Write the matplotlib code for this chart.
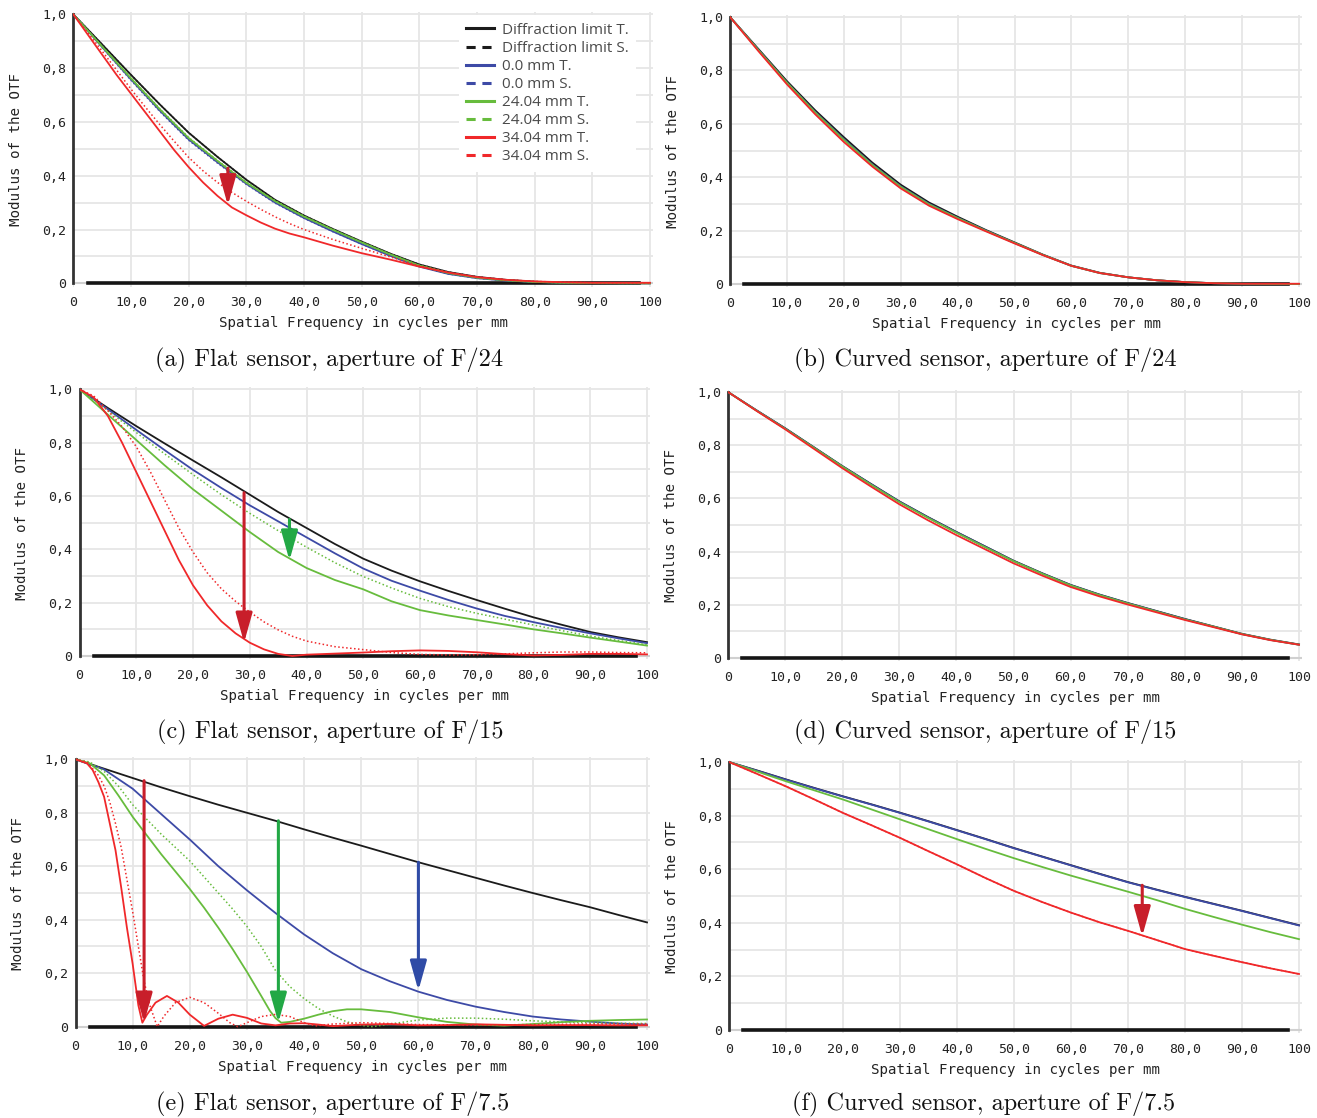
import matplotlib
matplotlib.use('Agg')
import matplotlib.pyplot as plt
from matplotlib.lines import Line2D

# ------------------------------------------------------------------
# Data (modulus of the OTF vs. frequency)
# ------------------------------------------------------------------
FREQ = [0, 5, 10, 15, 20, 25, 30, 35, 40, 45, 50, 55, 60, 65, 70, 75, 80, 85, 90, 95, 100]
FREQ_FINE = [0, 2.5, 5, 7.5, 10, 12.5, 15, 17.5, 20, 22.5, 25, 27.5, 30, 32.5, 35, 37.5, 40,
             45, 50, 55, 60, 65, 70, 75, 80, 85, 90, 95, 100]

X_TICKS = [0, 10, 20, 30, 40, 50, 60, 70, 80, 90, 100]
X_TICK_LABELS = ['0', '10,0', '20,0', '30,0', '40,0', '50,0', '60,0', '70,0', '80,0', '90,0', '100']
Y_TICKS = [0, 0.2, 0.4, 0.6, 0.8, 1.0]
Y_TICK_LABELS = ['0', '0,2', '0,4', '0,6', '0,8', '1,0']
Y_MINOR = [0.1, 0.3, 0.5, 0.7, 0.9]

LEGEND_LABELS = ['Diffraction limit T.', 'Diffraction limit S.', '0.0 mm T.', '0.0 mm S.',
                 '24.04 mm T.', '24.04 mm S.', '34.04 mm T.', '34.04 mm S.']

CAPTIONS = ['(a) Flat sensor, aperture of F/24', '(b) Curved sensor, aperture of F/24',
            '(c) Flat sensor, aperture of F/15', '(d) Curved sensor, aperture of F/15',
            '(e) Flat sensor, aperture of F/7.5', '(f) Curved sensor, aperture of F/7.5']

# (a) flat, F/24
A_DIFF = [1.0, 0.888, 0.775, 0.665, 0.56, 0.47, 0.385, 0.31, 0.252, 0.202, 0.155, 0.11, 0.07, 0.042, 0.024, 0.013, 0.006, 0.003, 0.001, 0.0, 0.0]
A_BLUE_T = [1.0, 0.878, 0.758, 0.642, 0.535, 0.45, 0.37, 0.3, 0.243, 0.193, 0.146, 0.102, 0.062, 0.035, 0.019, 0.01, 0.005, 0.002, 0.001, 0.0, 0.0]
A_BLUE_S = [1.0, 0.876, 0.755, 0.639, 0.532, 0.447, 0.368, 0.298, 0.242, 0.192, 0.146, 0.102, 0.062, 0.035, 0.019, 0.01, 0.005, 0.002, 0.001, 0.0, 0.0]
A_GREEN_T = [1.0, 0.88, 0.762, 0.647, 0.54, 0.455, 0.374, 0.305, 0.248, 0.199, 0.152, 0.107, 0.066, 0.038, 0.021, 0.011, 0.005, 0.002, 0.001, 0.0, 0.0]
A_GREEN_S = [1.0, 0.881, 0.764, 0.649, 0.542, 0.457, 0.376, 0.307, 0.25, 0.2, 0.153, 0.108, 0.067, 0.039, 0.021, 0.011, 0.005, 0.002, 0.001, 0.0, 0.0]
A_RED_T = [1.0, 0.925, 0.85, 0.775, 0.705, 0.635, 0.565, 0.495, 0.432, 0.375, 0.325, 0.282, 0.253, 0.226, 0.203, 0.185, 0.171,
           0.14, 0.112, 0.088, 0.062, 0.04, 0.023, 0.013, 0.007, 0.004, 0.002, 0.002, 0.002]
A_RED_S = [1.0, 0.932, 0.863, 0.793, 0.722, 0.655, 0.59, 0.528, 0.468, 0.418, 0.375, 0.338, 0.305, 0.275, 0.247, 0.222, 0.2,
           0.163, 0.13, 0.098, 0.065, 0.04, 0.023, 0.013, 0.007, 0.004, 0.002, 0.001, 0.001]

# (b) curved, F/24
B_DIFF = [1.0, 0.88, 0.76, 0.65, 0.55, 0.455, 0.372, 0.305, 0.252, 0.202, 0.156, 0.11, 0.069, 0.042, 0.025, 0.014, 0.007, 0.003, 0.001, 0.0, 0.0]
B_BLUE = [1.0, 0.877, 0.755, 0.644, 0.543, 0.448, 0.366, 0.3, 0.248, 0.2, 0.154, 0.109, 0.068, 0.041, 0.025, 0.014, 0.007, 0.003, 0.001, 0.0, 0.0]
B_GREEN = [1.0, 0.876, 0.754, 0.642, 0.54, 0.446, 0.364, 0.298, 0.247, 0.199, 0.154, 0.109, 0.068, 0.041, 0.025, 0.014, 0.007, 0.003, 0.001, 0.0, 0.0]
B_RED = [1.0, 0.872, 0.748, 0.635, 0.532, 0.44, 0.358, 0.293, 0.243, 0.197, 0.152, 0.108, 0.068, 0.041, 0.025, 0.014, 0.007, 0.003, 0.001, 0.001, 0.001]

# (c) flat, F/15
C_DIFF = [1.0, 0.93, 0.862, 0.797, 0.733, 0.67, 0.605, 0.54, 0.48, 0.42, 0.365, 0.32, 0.28, 0.244, 0.21, 0.177, 0.145, 0.117, 0.09, 0.07, 0.052]
C_BLUE_T = [1.0, 0.925, 0.848, 0.772, 0.698, 0.63, 0.565, 0.505, 0.445, 0.385, 0.328, 0.282, 0.245, 0.21, 0.178, 0.15, 0.127, 0.105, 0.085, 0.066, 0.048]
C_GREEN_T = [1.0, 0.905, 0.81, 0.715, 0.625, 0.545, 0.465, 0.39, 0.33, 0.285, 0.25, 0.205, 0.172, 0.152, 0.135, 0.118, 0.1, 0.085, 0.069, 0.054, 0.039]
C_GREEN_S = [1.0, 0.92, 0.838, 0.758, 0.68, 0.605, 0.535, 0.47, 0.408, 0.35, 0.298, 0.255, 0.216, 0.185, 0.16, 0.138, 0.116, 0.095, 0.075, 0.058, 0.042]
C_RED_T = [1.0, 0.97, 0.9, 0.8, 0.69, 0.58, 0.47, 0.36, 0.265, 0.19, 0.13, 0.085, 0.05, 0.025, 0.008, 0.0, 0.005,
           0.009, 0.013, 0.018, 0.021, 0.019, 0.014, 0.007, 0.002, 0.004, 0.008, 0.008, 0.006]
C_RED_S = [1.0, 0.975, 0.92, 0.86, 0.785, 0.69, 0.585, 0.48, 0.39, 0.312, 0.252, 0.205, 0.165, 0.128, 0.098, 0.074, 0.056,
           0.035, 0.024, 0.013, 0.006, 0.004, 0.005, 0.008, 0.012, 0.015, 0.015, 0.013, 0.012]

# (d) curved, F/15
D_DIFF = [1.0, 0.931, 0.864, 0.793, 0.722, 0.655, 0.589, 0.53, 0.474, 0.42, 0.366, 0.319, 0.275, 0.239, 0.207, 0.177, 0.147, 0.119, 0.091, 0.069, 0.051]
D_BLUE = [1.0, 0.931, 0.863, 0.792, 0.721, 0.654, 0.588, 0.529, 0.473, 0.419, 0.365, 0.318, 0.274, 0.238, 0.206, 0.176, 0.146, 0.118, 0.09, 0.068, 0.05]
D_GREEN = [1.0, 0.93, 0.862, 0.791, 0.72, 0.652, 0.586, 0.527, 0.471, 0.417, 0.364, 0.317, 0.273, 0.237, 0.205, 0.175, 0.145, 0.118, 0.09, 0.068, 0.05]
D_RED = [1.0, 0.929, 0.86, 0.787, 0.714, 0.645, 0.578, 0.518, 0.462, 0.409, 0.356, 0.31, 0.267, 0.232, 0.201, 0.172, 0.143, 0.116, 0.089, 0.067, 0.05]

# (e) flat, F/7.5
E_DIFF = [1.0, 0.965, 0.93, 0.895, 0.862, 0.83, 0.8, 0.77, 0.738, 0.707, 0.677, 0.646, 0.615, 0.586, 0.557, 0.528, 0.5, 0.473, 0.447, 0.418, 0.39]
E_BLUE = [1.0, 0.962, 0.89, 0.795, 0.7, 0.6, 0.51, 0.425, 0.345, 0.275, 0.215, 0.17, 0.131, 0.1, 0.075, 0.055, 0.038, 0.027, 0.019, 0.012, 0.008]
E_GREEN_X = [0, 2.5, 5, 7.5, 10, 12.5, 15, 17.5, 20, 22.5, 25, 27.5, 30, 32.5, 34, 35, 36, 37.5, 40, 42.5, 45, 47.5, 50,
             55, 60, 65, 70, 75, 80, 85, 90, 95, 100]
E_GREEN_T = [1.0, 0.985, 0.94, 0.865, 0.785, 0.715, 0.645, 0.58, 0.515, 0.445, 0.37, 0.29, 0.205, 0.115, 0.06, 0.032, 0.015,
             0.018, 0.03, 0.045, 0.058, 0.065, 0.065, 0.055, 0.035, 0.018, 0.008, 0.004, 0.01, 0.017, 0.022, 0.025, 0.027]
E_GREEN_SX = [0, 2.5, 5, 7.5, 10, 12.5, 15, 17.5, 20, 22.5, 25, 27.5, 30, 32.5, 35, 37.5, 40, 42.5, 45, 47.5, 50, 52,
              55, 60, 65, 70, 75, 80, 85, 90, 95, 100]
E_GREEN_S = [1.0, 0.99, 0.955, 0.9, 0.83, 0.775, 0.72, 0.67, 0.62, 0.56, 0.5, 0.44, 0.375, 0.3, 0.21, 0.15, 0.105, 0.068,
             0.04, 0.018, 0.005, 0.0, 0.01, 0.025, 0.032, 0.032, 0.028, 0.022, 0.018, 0.015, 0.013, 0.012]
E_RED_X = [0, 2, 3, 4, 5, 6, 7, 8, 9, 10, 11, 11.7, 12.5, 14, 16, 18, 20, 22.5, 25, 27.5, 30, 32.5, 35, 37.5, 40, 42.5,
           45, 50, 55, 60, 65, 70, 75, 80, 85, 90, 95, 100]
E_RED_T = [1.0, 0.985, 0.96, 0.915, 0.86, 0.76, 0.66, 0.52, 0.37, 0.235, 0.08, 0.015, 0.045, 0.09, 0.115, 0.09, 0.045,
           0.003, 0.03, 0.045, 0.033, 0.012, 0.005, 0.012, 0.013, 0.008, 0.002, 0.008, 0.01, 0.005, 0.006, 0.009, 0.007,
           0.005, 0.006, 0.006, 0.005, 0.005]
E_RED_SX = [0, 2, 4, 5, 6, 7, 8, 9, 10, 11, 12, 13, 14.3, 15.5, 17.5, 20, 22.5, 25, 27, 28.4, 30, 32.5, 35, 37.5, 40, 42,
            45, 50, 55, 60, 70, 80, 90, 100]
E_RED_S = [1.0, 0.99, 0.94, 0.9, 0.84, 0.76, 0.67, 0.55, 0.43, 0.3, 0.17, 0.08, 0.0, 0.04, 0.09, 0.11, 0.09, 0.05, 0.015,
           0.0, 0.015, 0.038, 0.046, 0.038, 0.015, 0.003, 0.01, 0.015, 0.012, 0.008, 0.006, 0.008, 0.01, 0.01]

# (f) curved, F/7.5
F_DIFF = [1.0, 0.968, 0.935, 0.903, 0.872, 0.842, 0.811, 0.779, 0.746, 0.713, 0.679, 0.647, 0.615, 0.583, 0.552, 0.524, 0.497, 0.471, 0.445, 0.418, 0.391]
F_BLUE = [1.0, 0.967, 0.934, 0.902, 0.871, 0.841, 0.81, 0.778, 0.745, 0.712, 0.678, 0.646, 0.614, 0.582, 0.551, 0.523, 0.496, 0.47, 0.444, 0.417, 0.39]
F_GREEN = [1.0, 0.964, 0.928, 0.894, 0.86, 0.823, 0.786, 0.749, 0.712, 0.676, 0.641, 0.608, 0.576, 0.546, 0.516, 0.485, 0.452, 0.422, 0.393, 0.365, 0.339]
F_RED = [1.0, 0.955, 0.909, 0.86, 0.81, 0.764, 0.717, 0.667, 0.618, 0.567, 0.519, 0.477, 0.438, 0.402, 0.37, 0.336, 0.302, 0.277, 0.253, 0.23, 0.209]

# arrows: (x, y_from, y_to, colour)
A_ARROWS = [(26.8, 0.428, 0.29, 'red')]
B_ARROWS = []
C_ARROWS = [(29.0, 0.612, 0.05, 'red'), (37.0, 0.512, 0.358, 'green')]
D_ARROWS = []
E_ARROWS = [(12.0, 0.92, 0.015, 'red'), (35.5, 0.77, 0.015, 'green'), (60.0, 0.615, 0.135, 'blue')]
F_ARROWS = [(72.5, 0.54, 0.35, 'red')]

# ------------------------------------------------------------------
BLACK = '#1b1b1b'
BLUE = '#3d4aa6'
GREEN = '#67bc3d'
RED = '#f0282a'
ARROW_COLORS = {'red': '#c81e2a', 'green': '#22a845', 'blue': '#2f4ba6'}
GRID = '#e6e6e6'
MONO = 'DejaVu Sans Mono'

W, H = 1317, 1118
XMAX = 100.6
YMIN, YMAX = -0.012, 1.008


def axes_rect(x0, x100, y1, y0):
    # pixel positions of x=0 / x=100 and y=1 / y=0 -> figure fraction rect
    sx = (x100 - x0) / 100.0
    sy = (y0 - y1) / 1.0
    left = x0
    right = x0 + XMAX * sx
    bottom = y0 - YMIN * sy
    top = y0 - YMAX * sy
    return [left / W, 1 - bottom / H, (right - left) / W, (bottom - top) / H]


def draw_panel(ax, curves, arrows):
    ax.set_xlim(0, XMAX)
    ax.set_ylim(YMIN, YMAX)
    ax.set_xticks(X_TICKS)
    ax.set_xticklabels(X_TICK_LABELS, fontfamily=MONO, fontsize=9.5, color='#222222')
    ax.set_yticks(Y_TICKS)
    ax.set_yticklabels(Y_TICK_LABELS, fontfamily=MONO, fontsize=9.5, color='#222222')
    ax.set_yticks(Y_MINOR, minor=True)
    ax.tick_params(which='both', length=0)
    ax.tick_params(axis='x', pad=7)
    ax.tick_params(axis='y', pad=5)
    ax.grid(True, which='both', color=GRID, lw=1.3, zorder=0)
    ax.set_axisbelow(True)
    for side in ['top', 'right', 'bottom']:
        ax.spines[side].set_visible(False)
    ax.spines['left'].set_color('#333333')
    ax.spines['left'].set_linewidth(2.0)
    ax.spines['left'].set_bounds(0, 1.0)
    ax.axhline(0, color='#d0d0d0', lw=1.5, zorder=1)
    ax.axhline(0, xmin=0.025, xmax=0.975, color='#151515', lw=2.6, zorder=1.5)

    for x, y, color, style in curves:
        if style == 'T':
            ax.plot(x, y, color=color, lw=1.3, zorder=3)
        else:
            ax.plot(x, y, color=color, lw=1.1, ls=(0, (1, 1.6)), zorder=3)

    for x, y_from, y_to, cname in arrows:
        ax.annotate('', xy=(x, y_to), xytext=(x, y_from),
                    arrowprops=dict(arrowstyle='-|>,head_length=1.5,head_width=0.42',
                                    color=ARROW_COLORS[cname], lw=2.2, mutation_scale=12,
                                    shrinkA=0, shrinkB=0), zorder=5)

    ax.set_xlabel('Spatial Frequency in cycles per mm', fontfamily=MONO, fontsize=10.2,
                  color='#222222', labelpad=5)
    ax.set_ylabel('Modulus of the OTF', fontfamily=MONO, fontsize=10.2,
                  color='#222222', labelpad=14)


fig = plt.figure(figsize=(W / 100, H / 100), dpi=100)

panels = [
    (axes_rect(73.3, 650, 14.3, 283.3), [
        (FREQ, A_DIFF, BLACK, 'T'), (FREQ, A_DIFF, BLACK, 'S'),
        (FREQ, A_BLUE_T, BLUE, 'T'), (FREQ, A_BLUE_S, BLUE, 'S'),
        (FREQ, A_GREEN_T, GREEN, 'T'), (FREQ, A_GREEN_S, GREEN, 'S'),
        (FREQ_FINE, A_RED_T, RED, 'T'), (FREQ_FINE, A_RED_S, RED, 'S')], A_ARROWS),
    (axes_rect(730, 1299, 17, 284), [
        (FREQ, B_DIFF, BLACK, 'T'), (FREQ, B_BLUE, BLUE, 'T'),
        (FREQ, B_GREEN, GREEN, 'T'), (FREQ, B_RED, RED, 'T')], B_ARROWS),
    (axes_rect(79.5, 647, 389.3, 656), [
        (FREQ, C_DIFF, BLACK, 'T'), (FREQ, C_BLUE_T, BLUE, 'T'),
        (FREQ, C_GREEN_T, GREEN, 'T'), (FREQ, C_GREEN_S, GREEN, 'S'),
        (FREQ_FINE, C_RED_T, RED, 'T'), (FREQ_FINE, C_RED_S, RED, 'S')], C_ARROWS),
    (axes_rect(728, 1299, 392, 658), [
        (FREQ, D_DIFF, BLACK, 'T'), (FREQ, D_BLUE, BLUE, 'T'),
        (FREQ, D_GREEN, GREEN, 'T'), (FREQ, D_RED, RED, 'T')], D_ARROWS),
    (axes_rect(75.5, 647, 759.3, 1026.7), [
        (FREQ, E_DIFF, BLACK, 'T'), (FREQ, E_BLUE, BLUE, 'T'),
        (E_GREEN_X, E_GREEN_T, GREEN, 'T'), (E_GREEN_SX, E_GREEN_S, GREEN, 'S'),
        (E_RED_X, E_RED_T, RED, 'T'), (E_RED_SX, E_RED_S, RED, 'S')], E_ARROWS),
    (axes_rect(729, 1299, 762, 1030), [
        (FREQ, F_DIFF, BLACK, 'T'), (FREQ, F_BLUE, BLUE, 'T'),
        (FREQ, F_GREEN, GREEN, 'T'), (FREQ, F_RED, RED, 'T'), (FREQ, F_RED, RED, 'S')], F_ARROWS),
]

axes = []
for rect, curves, arrows in panels:
    ax = fig.add_axes(rect)
    draw_panel(ax, curves, arrows)
    axes.append(ax)

# legend of panel (a)
handles = []
for color in [BLACK, BLUE, GREEN, RED]:
    handles.append(Line2D([], [], color=color, lw=2.2))
    handles.append(Line2D([], [], color=color, lw=2.2, ls=(0, (3, 2.2))))
leg = axes[0].legend(handles, LEGEND_LABELS, loc='upper right', bbox_to_anchor=(0.975, 1.0),
                     frameon=True, facecolor='white', edgecolor='none', framealpha=1,
                     borderaxespad=0.2, handlelength=1.8, handletextpad=0.5,
                     labelspacing=0.2, borderpad=0.5,
                     prop={'family': 'Open Sans', 'size': 11})
for t in leg.get_texts():
    t.set_color('#4a4a4a')
leg.set_zorder(6)

# captions
caption_pos = [(329, 360), (985, 360), (330, 732), (985, 732), (333, 1104), (984, 1104)]
for text, (cx, cy) in zip(CAPTIONS, caption_pos):
    fig.text(cx / W, 1 - cy / H, text, ha='center', va='center',
             fontfamily='cmr10', fontsize=17.5, color='#111111')

fig.savefig('out.png', dpi=100, facecolor='white')
